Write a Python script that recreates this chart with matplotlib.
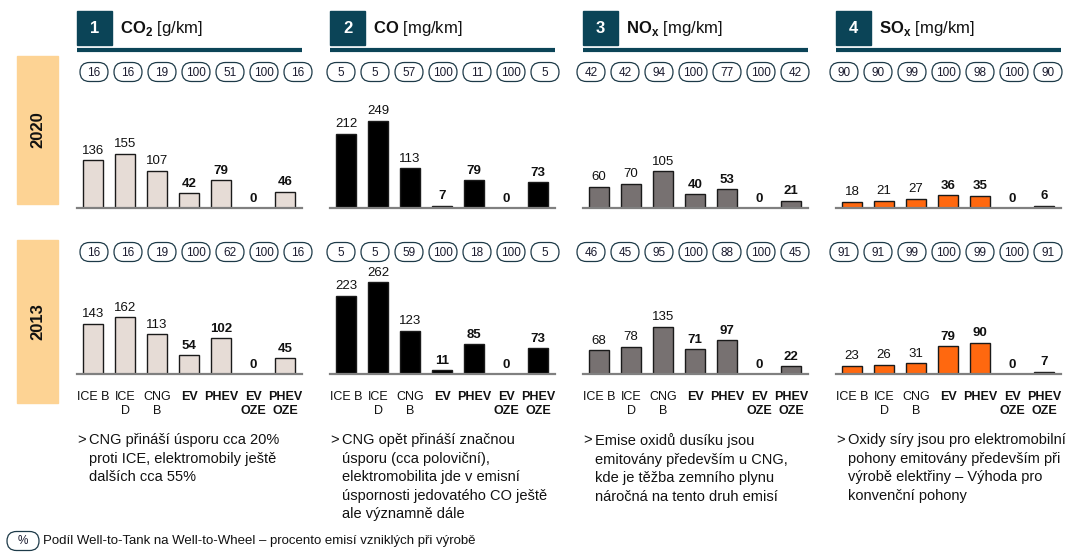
import matplotlib
matplotlib.use('Agg')
import matplotlib.pyplot as plt
from matplotlib.patches import Rectangle, FancyBboxPatch

plt.rcParams['font.family'] = ['Liberation Sans', 'DejaVu Sans']
plt.rcParams['mathtext.fontset'] = 'custom'
plt.rcParams['mathtext.rm'] = 'Liberation Sans'
plt.rcParams['mathtext.bf'] = 'Liberation Sans:bold'

# Data
categories = ['ICE B', 'ICE\nD', 'CNG\nB', 'EV', 'PHEV', 'EV\nOZE', 'PHEV\nOZE']
cat_bold = [False, False, False, True, True, True, True]
titles = [r'$\mathbf{CO}_\mathbf{2}$ [g/km]', r'$\mathbf{CO}$ [mg/km]',
          r'$\mathbf{NO}_\mathbf{x}$ [mg/km]', r'$\mathbf{SO}_\mathbf{x}$ [mg/km]']

co2_2020 = [136, 155, 107, 42, 79, 0, 46]
co_2020 = [212, 249, 113, 7, 79, 0, 73]
nox_2020 = [60, 70, 105, 40, 53, 0, 21]
sox_2020 = [18, 21, 27, 36, 35, 0, 6]

co2_2013 = [143, 162, 113, 54, 102, 0, 45]
co_2013 = [223, 262, 123, 11, 85, 0, 73]
nox_2013 = [68, 78, 135, 71, 97, 0, 22]
sox_2013 = [23, 26, 31, 79, 90, 0, 7]

# Well-to-Tank share (%)
wtt_co2_2020 = [16, 16, 19, 100, 51, 100, 16]
wtt_co_2020 = [5, 5, 57, 100, 11, 100, 5]
wtt_nox_2020 = [42, 42, 94, 100, 77, 100, 42]
wtt_sox_2020 = [90, 90, 99, 100, 98, 100, 90]

wtt_co2_2013 = [16, 16, 19, 100, 62, 100, 16]
wtt_co_2013 = [5, 5, 59, 100, 18, 100, 5]
wtt_nox_2013 = [46, 45, 95, 100, 88, 100, 45]
wtt_sox_2013 = [91, 91, 99, 100, 99, 100, 91]

years = ['2020', '2013']

notes = [
    'CNG přináší úsporu cca 20%\nproti ICE, elektromobily ještě\ndalších cca 55%',
    'CNG opět přináší značnou\núsporu (cca poloviční),\nelektromobilita jde v emisní\núspornosti jedovatého CO ještě\nale významně dále',
    'Emise oxidů dusíku jsou\nemitovány především u CNG,\nkde je těžba zemního plynu\nnáročná na tento druh emisí',
    'Oxidy síry jsou pro elektromobilní\npohony emitovány především při\nvýrobě elektřiny – Výhoda pro\nkonvenční pohony',
]
legend_text = 'Podíl Well-to-Tank na Well-to-Wheel – procento emisí vzniklých při výrobě'

rows = [[co2_2020, co_2020, nox_2020, sox_2020], [co2_2013, co_2013, nox_2013, sox_2013]]
wtt_rows = [[wtt_co2_2020, wtt_co_2020, wtt_nox_2020, wtt_sox_2020],
            [wtt_co2_2013, wtt_co_2013, wtt_nox_2013, wtt_sox_2013]]

# Styling / layout (pixels)
W, H = 1080, 557
teal = '#0b4457'
bar_colors = ['#e6dcd6', '#000000', '#777171', '#ff680f']
panel_left = [77, 330, 583, 836]
panel_w = 225
pill_x0 = [94, 341, 591, 844]
pill_step = 34
pill_y = [72, 252]
baseline = [208, 374]
year_box = [(56, 204), (240, 403)]
px_per_unit = 0.35
ax_h = 130

fig = plt.figure(figsize=(W / 100, H / 100), dpi=100)
bg = fig.add_axes([0, 0, 1, 1])
bg.set_xlim(0, W)
bg.set_ylim(H, 0)
bg.axis('off')

# headers
for p in range(4):
    L = panel_left[p]
    bg.add_patch(Rectangle((L, 11), 35, 34, color=teal))
    bg.text(L + 17.5, 28.5, str(p + 1), color='white', fontsize=12, fontweight='bold',
            ha='center', va='center')
    bg.text(L + 43, 29, titles[p], fontsize=12, ha='left', va='center', color='#111')
    bg.plot([L, L + panel_w], [50, 50], color=teal, lw=3, solid_capstyle='butt')

# year boxes
for r in range(2):
    y0, y1 = year_box[r]
    bg.add_patch(Rectangle((17, y0), 41, y1 - y0, color='#fdd394'))
    bg.text(37.5, (y0 + y1) / 2, years[r], rotation=90, fontsize=12, fontweight='bold',
            ha='center', va='center', color='#111')

# WtT pills
def pill(cx, cy, label, w=28, h=19):
    bg.add_patch(FancyBboxPatch((cx - w / 2, cy - h / 2), w, h,
                                boxstyle='round,pad=0,rounding_size=%g' % (h / 2),
                                fc='white', ec='#1d3a48', lw=0.9))
    bg.text(cx, cy + 0.5, label, fontsize=8.5, ha='center', va='center', color='#1a1a2e')

for r in range(2):
    for p in range(4):
        for i, v in enumerate(wtt_rows[r][p]):
            pill(pill_x0[p] + i * pill_step, pill_y[r], str(v))

# notes
for p in range(4):
    L = panel_left[p]
    bg.text(L, 433, '>', fontsize=10.5, ha='left', va='top', color='#111')
    bg.text(L + 12, 433, notes[p], fontsize=10.5, ha='left', va='top', color='#111',
            linespacing=1.42)

# legend
pill(23, 541, '%', w=32)
bg.text(43, 541, legend_text, fontsize=9.5, ha='left', va='center', color='#111')

# bar panels
x = list(range(len(categories)))
for r in range(2):
    for p in range(4):
        L = panel_left[p]
        ax = fig.add_axes([L / W, (H - baseline[r]) / H, panel_w / W, ax_h / H])
        ax.patch.set_visible(False)
        ax.set_xlim(-0.5, 6.53)
        ax.set_ylim(0, ax_h / px_per_unit)
        vals = rows[r][p]
        ax.bar(x, vals, width=0.62, color=bar_colors[p], edgecolor='#1a1a1a', linewidth=1.0)
        off = 3.5 / px_per_unit
        for i, v in enumerate(vals):
            ax.text(i, v + off, str(v), ha='center', va='bottom', fontsize=9.5,
                    fontweight='bold' if cat_bold[i] else 'normal', color='#111')
        for s in ['top', 'left', 'right']:
            ax.spines[s].set_visible(False)
        ax.spines['bottom'].set_color('#808080')
        ax.spines['bottom'].set_linewidth(1.6)
        ax.set_yticks([])
        ax.set_xticks(x)
        if r == 1:
            labels = ax.set_xticklabels(categories, fontsize=9, linespacing=1.3, color='#111')
            for lab, b in zip(labels, cat_bold):
                if b:
                    lab.set_fontweight('bold')
            ax.tick_params(axis='x', length=0, pad=12)
        else:
            ax.set_xticklabels([])
            ax.tick_params(axis='x', length=0)

fig.savefig('out.png', dpi=100)
